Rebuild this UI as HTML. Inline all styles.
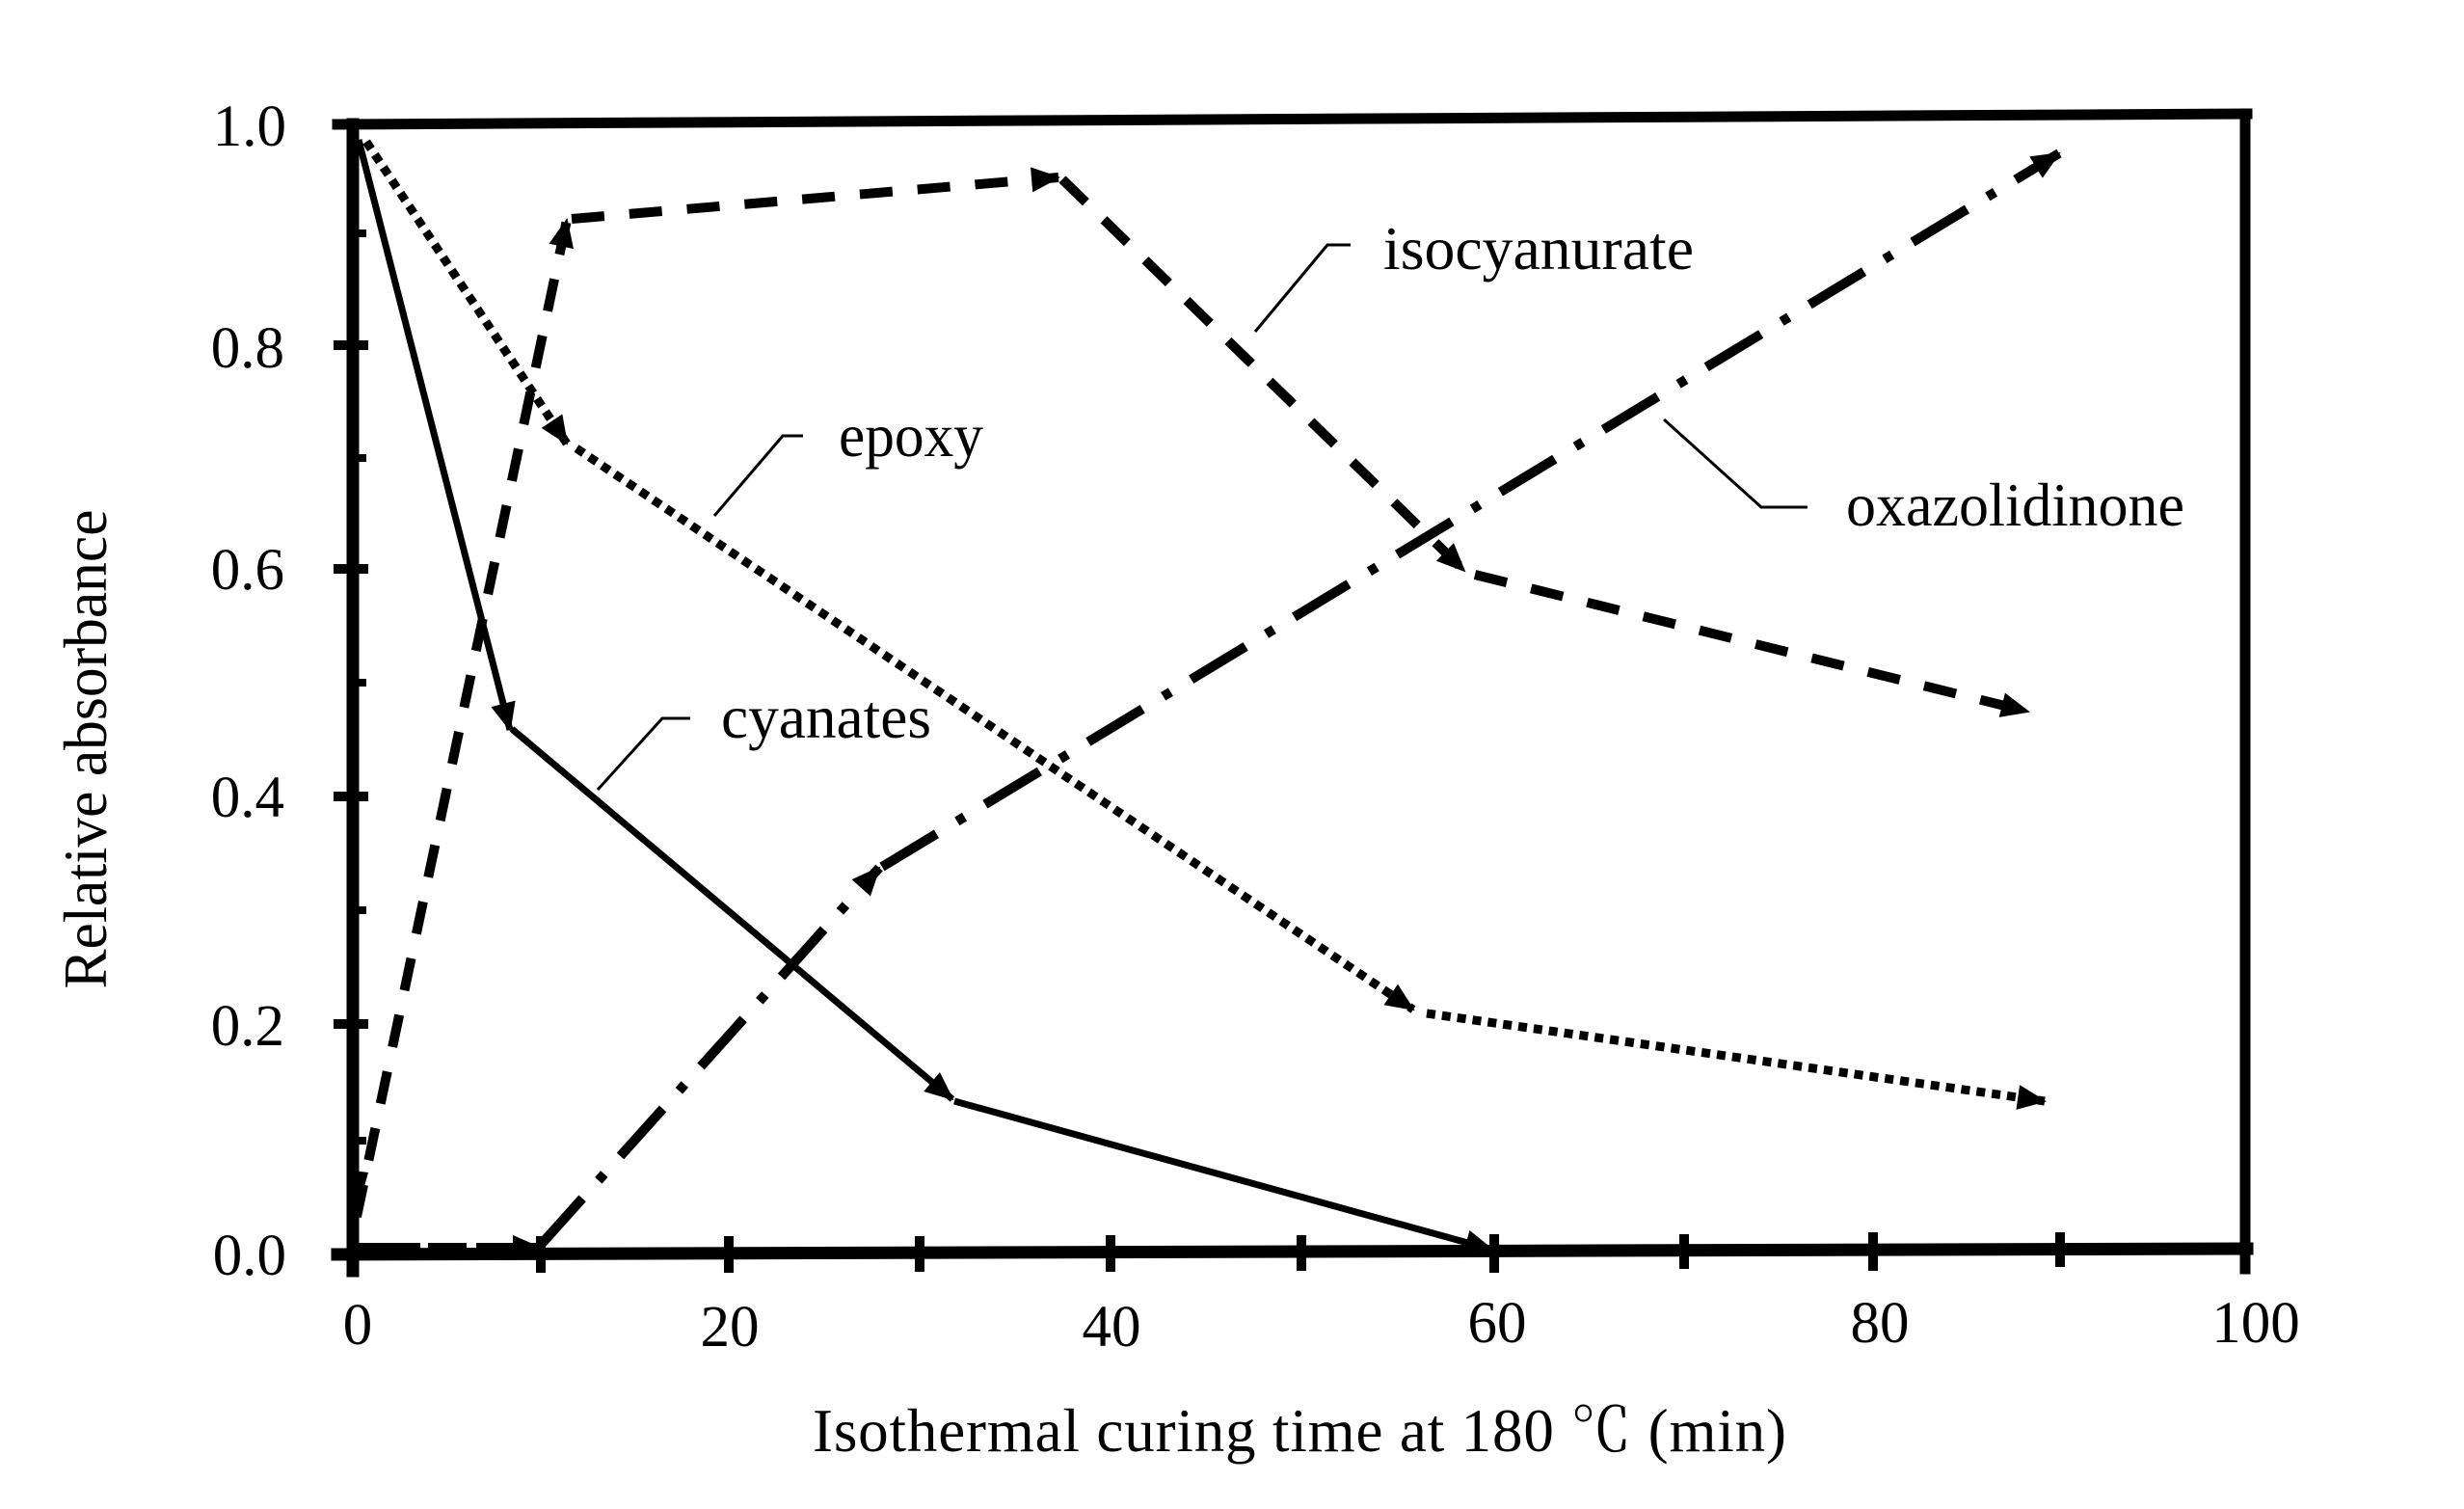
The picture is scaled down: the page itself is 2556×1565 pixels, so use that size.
<!DOCTYPE html>
<html>
<head>
<meta charset="utf-8">
<style>
  html, body { margin: 0; padding: 0; background: #fff; }
  svg { display: block; }
  text { font-family: "Liberation Serif", "Noto Serif CJK SC", serif; fill: #000; }
</style>
</head>
<body>
<svg width="2556" height="1565" viewBox="0 0 2556 1565" xmlns="http://www.w3.org/2000/svg">
  <defs>
    <marker id="ah" markerUnits="userSpaceOnUse" markerWidth="32" markerHeight="28" refX="28" refY="13" orient="auto" overflow="visible">
      <path d="M0,0 L30,13 L0,26 z" fill="#000"/>
    </marker>
  </defs>
  <rect width="2556" height="1565" fill="#fff"/>

  <!-- Frame -->
  <g stroke="#000" stroke-linecap="square" fill="none">
    <line x1="350" y1="129" x2="2331" y2="118" stroke-width="11"/>
    <line x1="2329" y1="118" x2="2329" y2="1316" stroke-width="11"/>
    <line x1="350" y1="1301" x2="2331" y2="1295" stroke-width="13"/>
    <line x1="366" y1="129" x2="366" y2="1318" stroke-width="13"/>
  </g>

  <!-- Y ticks -->
  <g stroke="#000" fill="none">
    <line x1="346" y1="358" x2="382" y2="358" stroke-width="10"/>
    <line x1="346" y1="590" x2="382" y2="590" stroke-width="10"/>
    <line x1="346" y1="826" x2="382" y2="826" stroke-width="10"/>
    <line x1="346" y1="1062" x2="382" y2="1062" stroke-width="10"/>
    <line x1="366" y1="242" x2="380" y2="242" stroke-width="8"/>
    <line x1="366" y1="475" x2="380" y2="475" stroke-width="8"/>
    <line x1="366" y1="708" x2="380" y2="708" stroke-width="8"/>
    <line x1="366" y1="944" x2="380" y2="944" stroke-width="8"/>
    <line x1="366" y1="1183" x2="380" y2="1183" stroke-width="8"/>
  </g>

  <!-- X ticks -->
  <g stroke="#000" fill="none" stroke-width="10">
    <line x1="561" y1="1282" x2="561" y2="1320"/>
    <line x1="756" y1="1282" x2="756" y2="1320"/>
    <line x1="954" y1="1282" x2="954" y2="1319"/>
    <line x1="1152" y1="1281" x2="1152" y2="1319"/>
    <line x1="1350" y1="1281" x2="1350" y2="1318"/>
    <line x1="1550" y1="1280" x2="1550" y2="1320"/>
    <line x1="1747" y1="1280" x2="1747" y2="1316"/>
    <line x1="1943" y1="1278" x2="1943" y2="1318"/>
    <line x1="2137" y1="1278" x2="2137" y2="1314"/>
  </g>

  <!-- Y tick labels -->
  <g font-size="61" text-anchor="end">
    <text x="297" y="151">1.0</text>
    <text x="295" y="381">0.8</text>
    <text x="295" y="611">0.6</text>
    <text x="295" y="847">0.4</text>
    <text x="295" y="1084">0.2</text>
    <text x="297" y="1322">0.0</text>
  </g>

  <!-- X tick labels -->
  <g font-size="61" text-anchor="middle">
    <text x="371" y="1394">0</text>
    <text x="757" y="1396">20</text>
    <text x="1153" y="1396">40</text>
    <text x="1553" y="1392">60</text>
    <text x="1950" y="1392">80</text>
    <text x="2340" y="1392">100</text>
  </g>

  <!-- Axis titles -->
  <text x="843" y="1505" font-size="63" textLength="1010" lengthAdjust="spacing">Isothermal curing time at 180 ℃ (min)</text>
  <text transform="translate(110,777) rotate(-90)" font-size="63" text-anchor="middle" textLength="497" lengthAdjust="spacingAndGlyphs">Relative absorbance</text>

  <!-- Cyanates (solid) -->
  <g stroke="#000" stroke-width="7" fill="none" marker-end="url(#ah)">
    <line x1="372" y1="145" x2="529" y2="757"/>
    <line x1="531" y1="756" x2="988" y2="1140"/>
    <line x1="990" y1="1142" x2="1548" y2="1296"/>
  </g>

  <!-- Epoxy (dotted) -->
  <g stroke="#000" stroke-width="9" fill="none" stroke-dasharray="9 7" marker-end="url(#ah)">
    <line x1="380" y1="147" x2="588" y2="460"/>
    <line x1="598" y1="465" x2="1466" y2="1047"/>
    <line x1="1480" y1="1051" x2="2121" y2="1142"/>
  </g>

  <!-- Isocyanurate (dashed) -->
  <g stroke="#000" stroke-width="10" fill="none" stroke-dasharray="34 26" marker-end="url(#ah)">
    <line x1="370" y1="1262" x2="588" y2="228"/>
    <line x1="593" y1="227" x2="1098" y2="184"/>
    <line x1="1102" y1="186" x2="1519" y2="592"/>
    <line x1="1530" y1="596" x2="2104" y2="738"/>
  </g>
  <path d="M366,1214 L382,1216 L372,1252 z" fill="#000"/>

  <!-- Oxazolidinone (dash-dot) -->
  <g stroke="#000" stroke-width="10" fill="none" marker-end="url(#ah)">
    <line x1="366" y1="1294" x2="560" y2="1294" stroke-dasharray="70 8 40 10"/>
    <line x1="560" y1="1292" x2="912" y2="900" stroke-dasharray="66 25 9 25"/>
    <line x1="915" y1="899" x2="2136" y2="159" stroke-dasharray="66 25 9 25"/>
  </g>

  <!-- Leader lines -->
  <g stroke="#000" stroke-width="3" fill="none">
    <polyline points="1401,254 1377,254 1302,344"/>
    <polyline points="833,452 812,452 741,535"/>
    <polyline points="716,745 687,745 620,819"/>
    <polyline points="1726,435 1827,526 1875,526"/>
  </g>

  <!-- Series labels -->
  <g font-size="63">
    <text x="1435" y="279" textLength="322" lengthAdjust="spacingAndGlyphs">isocyanurate</text>
    <text x="870" y="473" textLength="150" lengthAdjust="spacingAndGlyphs">epoxy</text>
    <text x="748" y="765" textLength="218" lengthAdjust="spacingAndGlyphs">cyanates</text>
    <text x="1915" y="545" textLength="351" lengthAdjust="spacingAndGlyphs">oxazolidinone</text>
  </g>
</svg>
</body>
</html>
